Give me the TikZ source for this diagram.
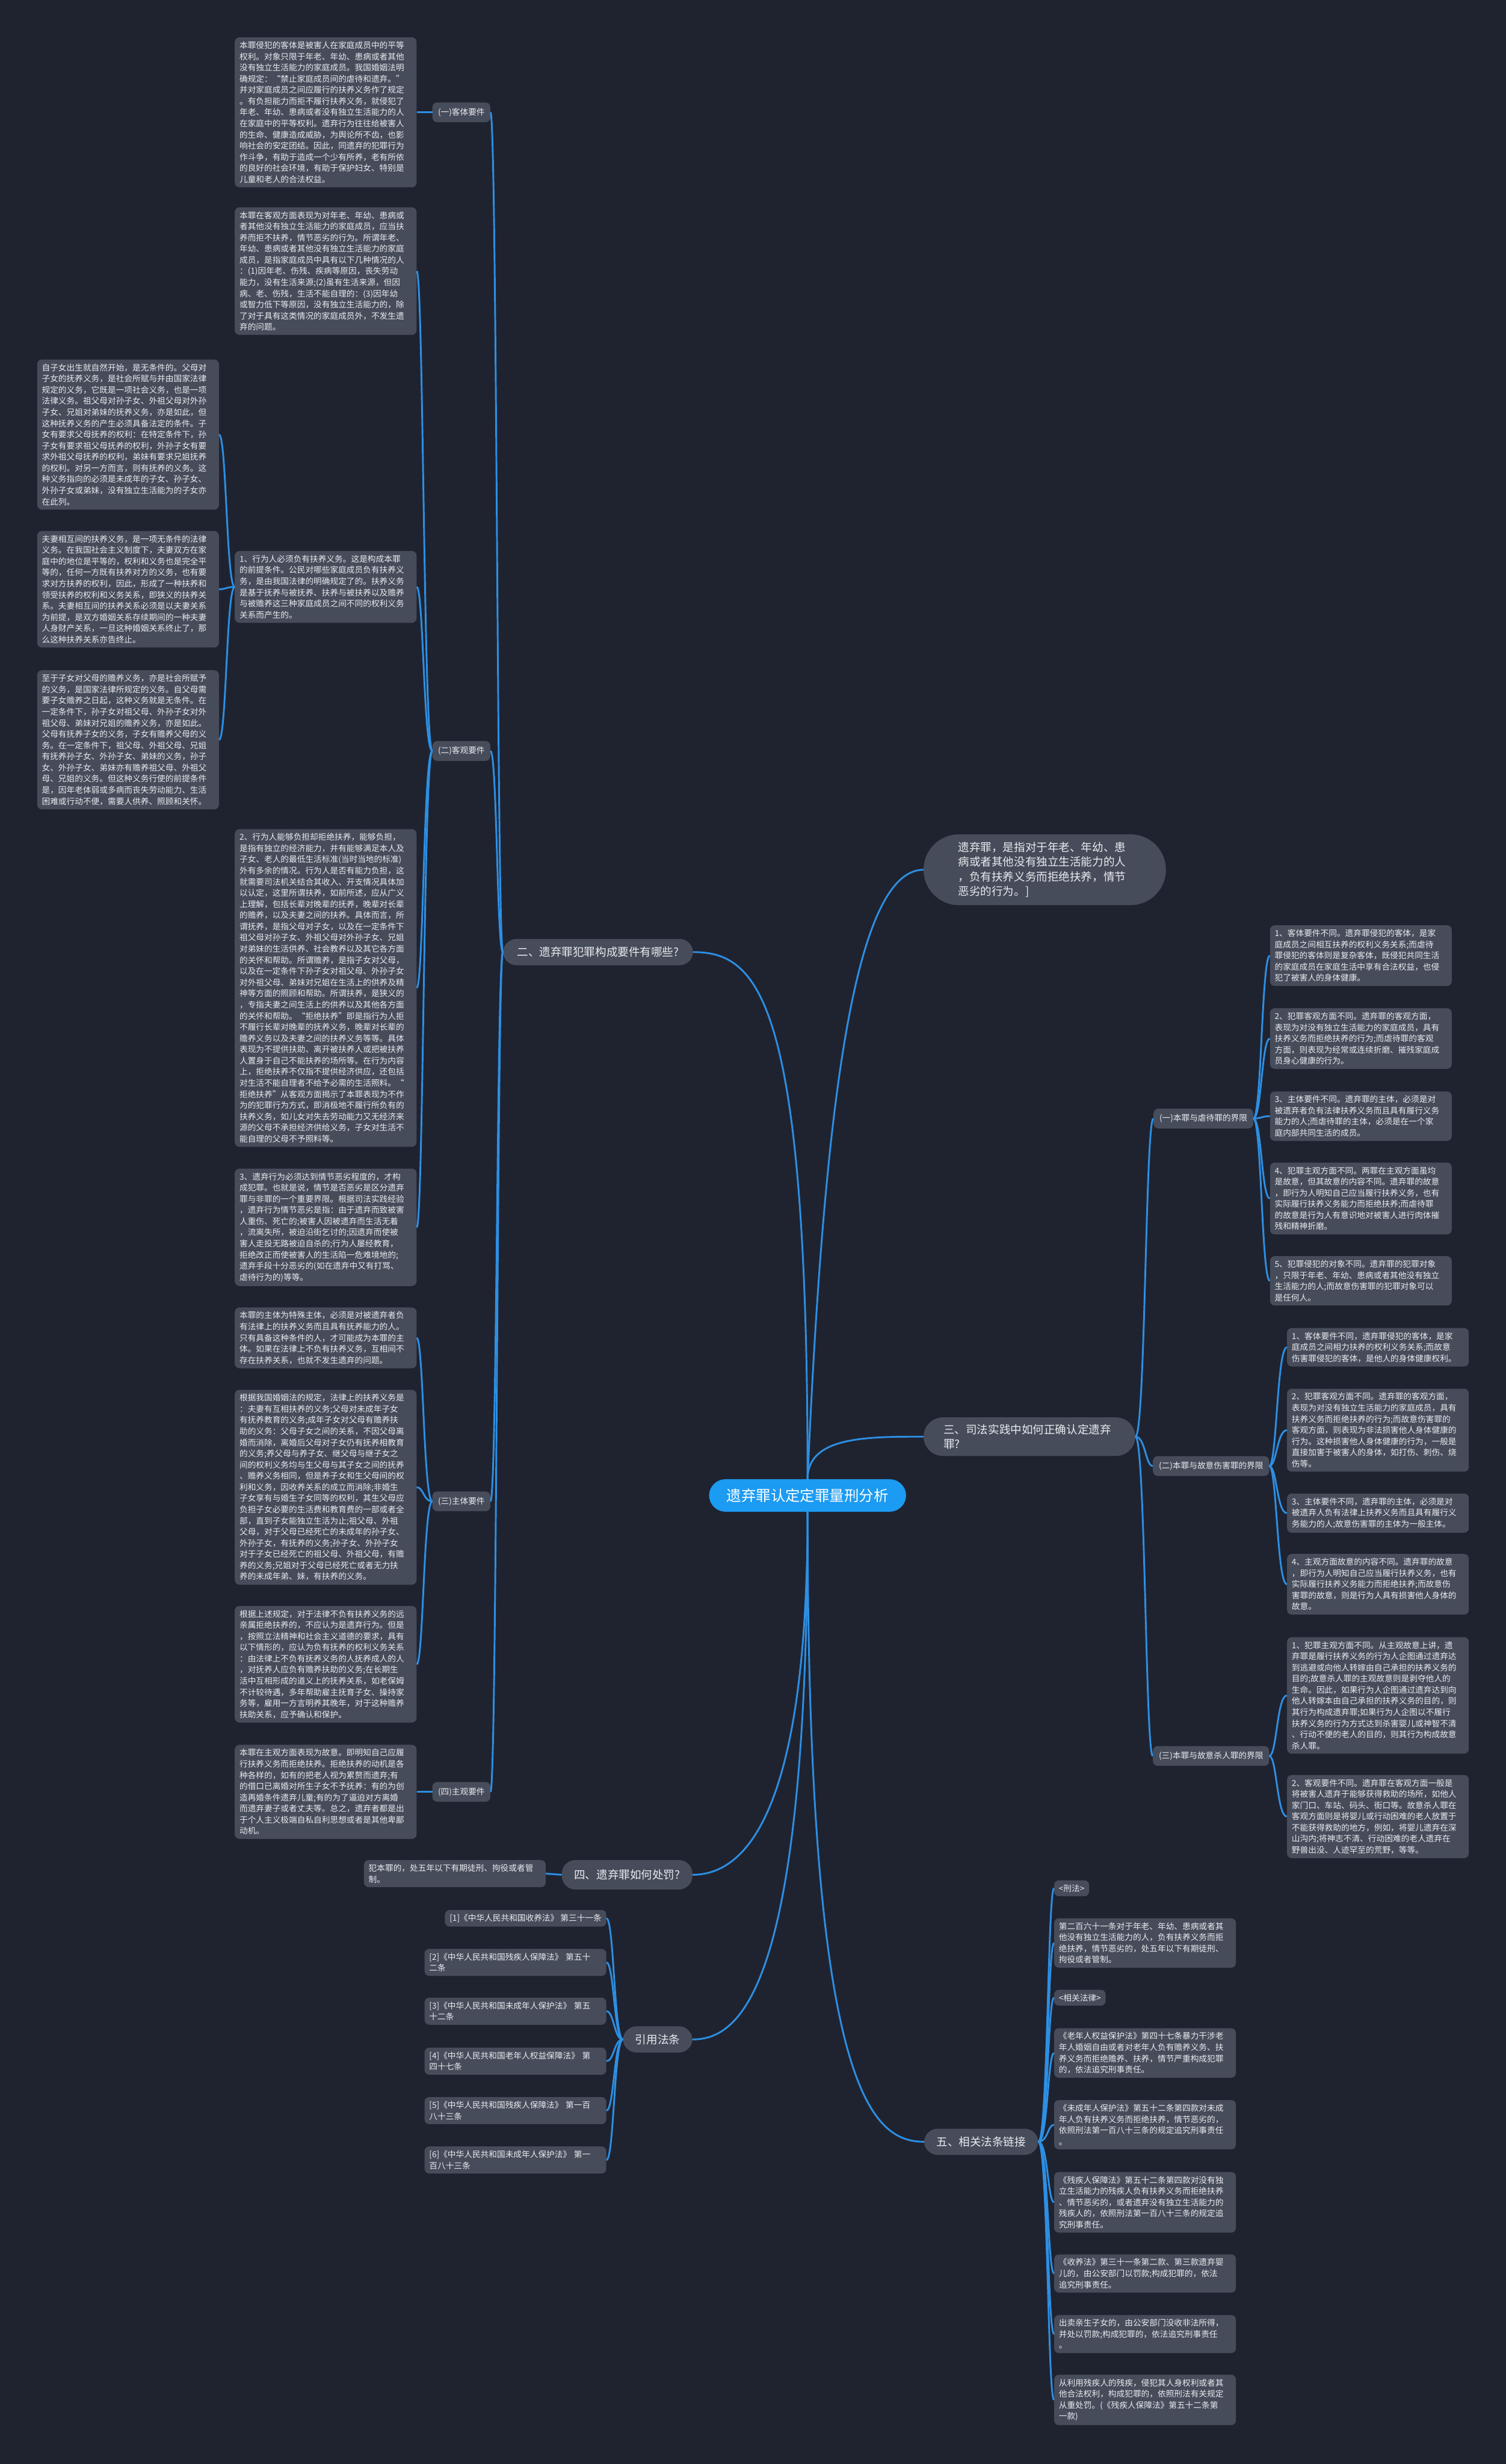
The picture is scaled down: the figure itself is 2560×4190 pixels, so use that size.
\documentclass[tikz,border=0pt]{standalone}
\usepackage{fontspec}
\setmainfont{Noto Sans CJK SC}
\usepackage{xcolor}
\usepackage{tikz}
\usetikzlibrary{positioning}
\definecolor{canvasbg}{HTML}{1F2330}
\definecolor{cardgray}{HTML}{474C5B}
\definecolor{linkblue}{HTML}{2D8FE3}
\definecolor{rootblue}{HTML}{1C9BF2}
\definecolor{inkwhite}{HTML}{E9EBEF}

\tikzset{
  cardbase/.style={fill=cardgray, rounded corners=8pt, text=inkwhite,
    font=\fontsize{14}{19}\selectfont, inner xsep=8pt, inner ysep=7pt, align=left},
  card/.style={cardbase, text width=293pt},
  tag/.style={fill=cardgray, rounded corners=8pt, text=inkwhite,
    font=\fontsize{14}{19}\selectfont, inner xsep=9.5pt, inner ysep=9.5pt},
  topic/.style={fill=cardgray, rounded corners=23pt, text=inkwhite,
    font=\fontsize{19}{25}\selectfont, inner xsep=21pt, inner ysep=13.5pt, align=left},
  rootnode/.style={fill=rootblue, rounded corners=28pt, text=white,
    font=\fontsize{25}{30}\selectfont, inner xsep=30pt, inner ysep=16pt},
  link/.style={draw=linkblue, line width=3pt},
}

\begin{document}
\begin{tikzpicture}[x=1pt, y=-1pt]
  \fill[canvasbg] (0,0) rectangle (2560,4190);

  \node[rootnode] (root) at (1373,2543) {遗弃罪认定定罪量刑分析};

  % 二、构成要件
  \node[topic, anchor=west, minimum width=323pt] (elem) at (855,1619) {二、遗弃罪犯罪构成要件有哪些?};
  \node[tag, anchor=west] (elemA) at (735,191) {(一)客体要件};
  \node[tag, anchor=west] (elemB) at (735,1277) {(二)客观要件};
  \node[tag, anchor=west] (elemC) at (735,2553) {(三)主体要件};
  \node[tag, anchor=west] (elemD) at (735,3047) {(四)主观要件};

  \node[card, anchor=west] (elemA1) at (399,191) {本罪侵犯的客体是被害人在家庭成员中的平等\\
    权利。对象只限于年老、年幼、患病或者其他\\
    没有独立生活能力的家庭成员。我国婚姻法明\\
    确规定：“禁止家庭成员间的虐待和遗弃。”\\
    并对家庭成员之间应履行的扶养义务作了规定\\
    。有负担能力而拒不履行扶养义务，就侵犯了\\
    年老、年幼、患病或者没有独立生活能力的人\\
    在家庭中的平等权利。遗弃行为往往给被害人\\
    的生命、健康造成威胁，为舆论所不齿，也影\\
    响社会的安定团结。因此，同遗弃的犯罪行为\\
    作斗争，有助于造成一个少有所养，老有所依\\
    的良好的社会环境，有助于保护妇女、特别是\\
    儿童和老人的合法权益。};

  \node[card, anchor=west] (elemB1) at (399,461) {本罪在客观方面表现为对年老、年幼、患病或\\
    者其他没有独立生活能力的家庭成员，应当扶\\
    养而拒不扶养，情节恶劣的行为。所谓年老、\\
    年幼、患病或者其他没有独立生活能力的家庭\\
    成员，是指家庭成员中具有以下几种情况的人\\
    ：(1)因年老、伤残、疾病等原因，丧失劳动\\
    能力，没有生活来源;(2)虽有生活来源，但因\\
    病、老、伤残，生活不能自理的：(3)因年幼\\
    或智力低下等原因，没有独立生活能力的，除\\
    了对于具有这类情况的家庭成员外，不发生遗\\
    弃的问题。};

  \node[card, anchor=west] (elemB2) at (399,998) {1、行为人必须负有扶养义务。这是构成本罪\\
    的前提条件。公民对哪些家庭成员负有扶养义\\
    务，是由我国法律的明确规定了的。扶养义务\\
    是基于抚养与被抚养、扶养与被扶养以及赡养\\
    与被赡养这三种家庭成员之间不同的权利义务\\
    关系而产生的。};

  \node[card, anchor=west] (elemB2a) at (63,739) {自子女出生就自然开始，是无条件的。父母对\\
    子女的抚养义务，是社会所赋与并由国家法律\\
    规定的义务，它既是一项社会义务，也是一项\\
    法律义务。祖父母对孙子女、外祖父母对外孙\\
    子女、兄姐对弟妹的抚养义务，亦是如此，但\\
    这种抚养义务的产生必须具备法定的条件。子\\
    女有要求父母抚养的权利：在特定条件下，孙\\
    子女有要求祖父母抚养的权利，外孙子女有要\\
    求外祖父母抚养的权利，弟妹有要求兄姐抚养\\
    的权利。对另一方而言，则有抚养的义务。这\\
    种义务指向的必须是未成年的子女、孙子女、\\
    外孙子女或弟妹，没有独立生活能为的子女亦\\
    在此列。};

  \node[card, anchor=west] (elemB2b) at (63,1002) {夫妻相互间的扶养义务，是一项无条件的法律\\
    义务。在我国社会主义制度下，夫妻双方在家\\
    庭中的地位是平等的，权利和义务也是完全平\\
    等的，任何一方既有扶养对方的义务，也有要\\
    求对方扶养的权利，因此，形成了一种扶养和\\
    领受扶养的权利和义务关系，即狭义的扶养关\\
    系。夫妻相互间的扶养关系必须是以夫妻关系\\
    为前提，是双方婚姻关系存续期间的一种夫妻\\
    人身财产关系，一旦这种婚姻关系终止了，那\\
    么这种扶养关系亦告终止。};

  \node[card, anchor=west] (elemB2c) at (63,1258) {至于子女对父母的赡养义务，亦是社会所赋予\\
    的义务，是国家法律所规定的义务。自父母需\\
    要子女赡养之日起，这种义务就是无条件。在\\
    一定条件下，孙子女对祖父母、外孙子女对外\\
    祖父母、弟妹对兄姐的赡养义务，亦是如此。\\
    父母有抚养子女的义务，子女有赡养父母的义\\
    务。在一定条件下，祖父母、外祖父母、兄姐\\
    有抚养孙子女、外孙子女、弟妹的义务，孙子\\
    女、外孙子女、弟妹亦有赡养祖父母、外祖父\\
    母、兄姐的义务。但这种义务行使的前提条件\\
    是，因年老体弱或多病而丧失劳动能力、生活\\
    困难或行动不便，需要人供养、照顾和关怀。};

  \node[card, anchor=west] (elemB3) at (399,1680) {2、行为人能够负担却拒绝扶养，能够负担，\\
    是指有独立的经济能力，并有能够满足本人及\\
    子女、老人的最低生活标准(当时当地的标准)\\
    外有多余的情况。行为人是否有能力负担，这\\
    就需要司法机关结合其收入、开支情况具体加\\
    以认定，这里所谓扶养，如前所述，应从广义\\
    上理解，包括长辈对晚辈的抚养，晚辈对长辈\\
    的赡养，以及夫妻之间的扶养。具体而言，所\\
    谓抚养，是指父母对子女，以及在一定条件下\\
    祖父母对孙子女、外祖父母对外孙子女、兄姐\\
    对弟妹的生活供养、社会教养以及其它各方面\\
    的关怀和帮助。所谓赡养，是指子女对父母，\\
    以及在一定条件下孙子女对祖父母、外孙子女\\
    对外祖父母、弟妹对兄姐在生活上的供养及精\\
    神等方面的照顾和帮助。所谓扶养，是狭义的\\
    ，专指夫妻之间生活上的供养以及其他各方面\\
    的关怀和帮助。“拒绝扶养”即是指行为人拒\\
    不履行长辈对晚辈的抚养义务，晚辈对长辈的\\
    赡养义务以及夫妻之间的扶养义务等等。具体\\
    表现为不提供扶助、离开被扶养人或把被扶养\\
    人置身于自己不能扶养的场所等。在行为内容\\
    上，拒绝扶养不仅指不提供经济供应，还包括\\
    对生活不能自理者不给予必需的生活照料。“\\
    拒绝扶养”从客观方面揭示了本罪表现为不作\\
    为的犯罪行为方式，即消极地不履行所负有的\\
    扶养义务，如儿女对失去劳动能力又无经济来\\
    源的父母不承担经济供给义务，子女对生活不\\
    能自理的父母不予照料等。};

  \node[card, anchor=west] (elemB4) at (399,2087) {3、遗弃行为必须达到情节恶劣程度的，才构\\
    成犯罪。也就是说，情节是否恶劣是区分遗弃\\
    罪与非罪的一个重要界限。根据司法实践经验\\
    ，遗弃行为情节恶劣是指：由于遗弃而致被害\\
    人重伤、死亡的;被害人因被遗弃而生活无着\\
    ，流离失所，被迫沿街乞讨的;因遗弃而使被\\
    害人走投无路被迫自杀的;行为人屡经教育，\\
    拒绝改正而使被害人的生活陷一危难境地的;\\
    遗弃手段十分恶劣的(如在遗弃中又有打骂、\\
    虐待行为的)等等。};

  \node[card, anchor=west] (elemC1) at (399,2275) {本罪的主体为特殊主体，必须是对被遗弃者负\\
    有法律上的扶养义务而且具有抚养能力的人。\\
    只有具备这种条件的人，才可能成为本罪的主\\
    体。如果在法律上不负有扶养义务，互相间不\\
    存在扶养关系，也就不发生遗弃的问题。};

  \node[card, anchor=west] (elemC2) at (399,2529) {根据我国婚姻法的规定，法律上的扶养义务是\\
    ：夫妻有互相扶养的义务;父母对未成年子女\\
    有抚养教育的义务;成年子女对父母有赡养扶\\
    助的义务：父母子女之间的关系，不因父母离\\
    婚而消除，离婚后父母对子女仍有抚养相教育\\
    的义务;养父母与养子女、继父母与继子女之\\
    间的权利义务均与生父母与其子女之间的抚养\\
    、赡养义务相同，但是养子女和生父母间的权\\
    利和义务，因收养关系的成立而消除;非婚生\\
    子女享有与婚生子女同等的权利，其生父母应\\
    负担子女必要的生活费和教育费的一部或者全\\
    部，直到子女能独立生活为止;祖父母、外祖\\
    父母，对于父母已经死亡的未成年的孙子女、\\
    外孙子女，有抚养的义务;孙子女、外孙子女\\
    对于子女已经死亡的祖父母、外祖父母，有赡\\
    养的义务;兄姐对于父母已经死亡或者无力扶\\
    养的未成年弟、妹，有扶养的义务。};

  \node[card, anchor=west] (elemC3) at (399,2830) {根据上述规定，对于法律不负有扶养义务的远\\
    亲属拒绝扶养的，不应认为是遗弃行为。但是\\
    ，按照立法精神和社会主义道德的要求，具有\\
    以下情形的，应认为负有抚养的权利义务关系\\
    ：由法律上不负有抚养义务的人抚养成人的人\\
    ，对抚养人应负有赡养扶助的义务;在长期生\\
    活中互相形成的道义上的抚养关系，如老保姆\\
    不计较待遇，多年帮助雇主抚育子女、操持家\\
    务等，雇用一方言明养其晚年，对于这种赡养\\
    扶助关系，应予确认和保护。};

  \node[card, anchor=west] (elemD1) at (399,3047) {本罪在主观方面表现为故意。即明知自己应履\\
    行扶养义务而拒绝扶养。拒绝扶养的动机是各\\
    种各样的，如有的把老人视为累赘而遗弃;有\\
    的借口已离婚对所生子女不予抚养：有的为创\\
    造再婚条件遗弃儿童;有的为了逼迫对方离婚\\
    而遗弃妻子或者丈夫等。总之，遗弃者都是出\\
    于个人主义极端自私自利思想或者是其他卑鄙\\
    动机。};

  % 定义
  \node[topic, anchor=west, text width=294pt, inner xsep=59pt, inner ysep=13pt,
        rounded corners=60pt] (rd) at (1570,1479) {遗弃罪，是指对于年老、年幼、患\\
    病或者其他没有独立生活能力的人\\
    ，负有扶养义务而拒绝扶养，情节\\
    恶劣的行为。]};

  % 三、司法认定
  \node[topic, anchor=west, text width=292pt, inner xsep=34pt, inner ysep=11.5pt,
        rounded corners=33pt] (sf) at (1570,2443) {三、司法实践中如何正确认定遗弃\\罪?};
  \node[tag, anchor=west, inner xsep=10pt] (nb1) at (1961,1902) {(一)本罪与虐待罪的界限};
  \node[tag, anchor=west, inner xsep=10pt] (nb2) at (1960,2493) {(二)本罪与故意伤害罪的界限};
  \node[tag, anchor=west, inner xsep=10pt] (nb3) at (1960,2986) {(三)本罪与故意杀人罪的界限};

  \node[card, anchor=west] (nb1a) at (2159,1625) {1、客体要件不同。遗弃罪侵犯的客体，是家\\
    庭成员之间相互扶养的权利义务关系;而虐待\\
    罪侵犯的客体则是复杂客体，既侵犯共同生活\\
    的家庭成员在家庭生活中享有合法权益，也侵\\
    犯了被害人的身体健康。};
  \node[card, anchor=west] (nb1b) at (2159,1766) {2、犯罪客观方面不同。遗弃罪的客观方面，\\
    表现为对没有独立生活能力的家庭成员，具有\\
    扶养义务而拒绝扶养的行为;而虐待罪的客观\\
    方面，则表现为经常或连续折磨、摧残家庭成\\
    员身心健康的行为。};
  \node[card, anchor=west] (nb1c) at (2159,1898) {3、主体要件不同。遗弃罪的主体，必须是对\\
    被遗弃者负有法律扶养义务而且具有履行义务\\
    能力的人;而虐待罪的主体，必须是在一个家\\
    庭内部共同生活的成员。};
  \node[card, anchor=west] (nb1d) at (2159,2038) {4、犯罪主观方面不同。两罪在主观方面虽均\\
    是故意，但其故意的内容不同。遗弃罪的故意\\
    ，即行为人明知自己应当履行扶养义务，也有\\
    实际履行扶养义务能力而拒绝扶养;而虐待罪\\
    的故意是行为人有意识地对被害人进行肉体摧\\
    残和精神折磨。};
  \node[card, anchor=west] (nb1e) at (2159,2178) {5、犯罪侵犯的对象不同。遗弃罪的犯罪对象\\
    ，只限于年老、年幼、患病或者其他没有独立\\
    生活能力的人;而故意伤害罪的犯罪对象可以\\
    是任何人。};

  \node[card, anchor=west] (nb2a) at (2188,2291) {1、客体要件不同，遗弃罪侵犯的客体，是家\\
    庭成员之间相力扶养的权利义务关系;而故意\\
    伤害罪侵犯的客体，是他人的身体健康权利。};
  \node[card, anchor=west] (nb2b) at (2188,2432) {2、犯罪客观方面不同。遗弃罪的客观方面，\\
    表现为对没有独立生活能力的家庭成员，具有\\
    扶养义务而拒绝扶养的行为;而故意伤害罪的\\
    客观方面，则表现为非法损害他人身体健康的\\
    行为。这种损害他人身体健康的行为，一般是\\
    直接加害于被害人的身体，如打伤、刺伤、烧\\
    伤等。};
  \node[card, anchor=west] (nb2c) at (2188,2573) {3、主体要件不同，遗弃罪的主体，必须是对\\
    被遗弃人负有法律上扶养义务而且具有履行义\\
    务能力的人;故意伤害罪的主体为一般主体。};
  \node[card, anchor=west] (nb2d) at (2188,2694) {4、主观方面故意的内容不同。遗弃罪的故意\\
    ，即行为人明知自己应当履行扶养义务，也有\\
    实际履行扶养义务能力而拒绝扶养;而故意伤\\
    害罪的故意，则是行为人具有损害他人身体的\\
    故意。};

  \node[card, anchor=west] (nb3a) at (2188,2883) {1、犯罪主观方面不同。从主观故意上讲，遗\\
    弃罪是履行扶养义务的行为人企图通过遗弃达\\
    到逃避或向他人转嫁由自己承担的扶养义务的\\
    目的;故意杀人罪的主观故意则是剥夺他人的\\
    生命。因此，如果行为人企图通过遗弃达到向\\
    他人转嫁本由自己承担的扶养义务的目的，则\\
    其行为构成遗弃罪;如果行为人企图以不履行\\
    扶养义务的行为方式达到杀害婴儿或神智不清\\
    、行动不便的老人的目的，则其行为构成故意\\
    杀人罪。};
  \node[card, anchor=west] (nb3b) at (2188,3089) {2、客观要件不同。遗弃罪在客观方面一般是\\
    将被害人遗弃于能够获得救助的场所，如他人\\
    家门口、车站、码头、街口等。故意杀人罪在\\
    客观方面则是将婴儿或行动困难的老人放置于\\
    不能获得救助的地方，例如，将婴儿遗弃在深\\
    山沟内;将神志不清、行动困难的老人遗弃在\\
    野兽出没、人迹罕至的荒野，等等。};

  % 四、处罚
  \node[topic, anchor=west, minimum height=50pt] (pen) at (955,3188) {四、遗弃罪如何处罚?};
  \node[card, anchor=east] (penA) at (928,3186) {犯本罪的，处五年以下有期徒刑、拘役或者管\\制。};

  % 引用法条
  \node[topic, anchor=west] (cite) at (1059,3468) {引用法条};
  \node[cardbase, anchor=east] (cite1) at (1031,3262) {[1]《中华人民共和国收养法》 第三十一条};
  \node[card, anchor=east] (cite2) at (1031,3337) {[2]《中华人民共和国残疾人保障法》 第五十\\二条};
  \node[card, anchor=east] (cite3) at (1031,3420) {[3]《中华人民共和国未成年人保护法》 第五\\十二条};
  \node[card, anchor=east] (cite4) at (1031,3505) {[4]《中华人民共和国老年人权益保障法》 第\\四十七条};
  \node[card, anchor=east] (cite5) at (1031,3589) {[5]《中华人民共和国残疾人保障法》 第一百\\八十三条};
  \node[card, anchor=east] (cite6) at (1031,3673) {[6]《中华人民共和国未成年人保护法》 第一\\百八十三条};

  % 五、相关法条
  \node[topic, anchor=west] (rel) at (1571,3642) {五、相关法条链接};
  \node[cardbase, anchor=west] (rel1) at (1792,3211) {<刑法>};
  \node[card, anchor=west] (rel2) at (1792,3304) {第二百六十一条对于年老、年幼、患病或者其\\
    他没有独立生活能力的人，负有扶养义务而拒\\
    绝扶养，情节恶劣的，处五年以下有期徒刑、\\
    拘役或者管制。};
  \node[cardbase, anchor=west] (rel3) at (1792,3397) {<相关法律>};
  \node[card, anchor=west] (rel4) at (1792,3491) {《老年人权益保护法》第四十七条暴力干涉老\\
    年人婚姻自由或者对老年人负有赡养义务、扶\\
    养义务而拒绝赡养、扶养，情节严重构成犯罪\\
    的，依法追究刑事责任。};
  \node[card, anchor=west] (rel5) at (1792,3613) {《未成年人保护法》第五十二条第四款对未成\\
    年人负有扶养义务而拒绝扶养，情节恶劣的，\\
    依照刑法第一百八十三条的规定追究刑事责任\\
    。};
  \node[card, anchor=west] (rel6) at (1792,3745) {《残疾人保障法》第五十二条第四款对没有独\\
    立生活能力的残疾人负有扶养义务而拒绝扶养\\
    、情节恶劣的，或者遗弃没有独立生活能力的\\
    残疾人的，依照刑法第一百八十三条的规定追\\
    究刑事责任。};
  \node[card, anchor=west] (rel7) at (1792,3866) {《收养法》第三十一条第二款、第三款遗弃婴\\
    儿的，由公安部门以罚款;构成犯罪的，依法\\
    追究刑事责任。};
  \node[card, anchor=west] (rel8) at (1792,3969) {出卖亲生子女的，由公安部门没收非法所得，\\
    并处以罚款;构成犯罪的，依法追究刑事责任\\
    。};
  \node[card, anchor=west] (rel9) at (1792,4081) {从利用残疾人的残疾，侵犯其人身权利或者其\\
    他合法权利，构成犯罪的，依照刑法有关规定\\
    从重处罚。(《残疾人保障法》第五十二条第\\
    一款)};

  % connectors from the root
  \draw[link] (root.north) .. controls (1373,1700) and (1290,1619) .. (elem.east);
  \draw[link] (root.north) .. controls (1400,1900) and (1450,1479) .. (rd.west);
  \draw[link] (root.north) .. controls (1373,2443) and (1472,2443) .. (sf.west);
  \draw[link] (root.south) .. controls (1373,3100) and (1260,3188) .. (pen.east);
  \draw[link] (root.south) .. controls (1373,3380) and (1260,3468) .. (cite.east);
  \draw[link] (root.south) .. controls (1373,3550) and (1480,3642) .. (rel.west);

  % brackets
  \coordinate (elemk) at ([xshift=-10pt]elem.west);
  \foreach \c in {elemA,elemB,elemC,elemD}
    \draw[link] (elem.west) .. controls (elemk) and (elemk |- \c.east) .. (\c.east);
  \coordinate (elemAk) at ([xshift=-14pt]elemA.west);
  \draw[link] (elemA.west) .. controls (elemAk) and (elemAk |- elemA1.east) .. (elemA1.east);
  \coordinate (elemBk) at ([xshift=-15pt]elemB.west);
  \foreach \c in {elemB1,elemB2,elemB3,elemB4}
    \draw[link] (elemB.west) .. controls (elemBk) and (elemBk |- \c.east) .. (\c.east);
  \coordinate (elemB2k) at ([xshift=-14pt]elemB2.west);
  \foreach \c in {elemB2a,elemB2b,elemB2c}
    \draw[link] (elemB2.west) .. controls (elemB2k) and (elemB2k |- \c.east) .. (\c.east);
  \coordinate (elemCk) at ([xshift=-15pt]elemC.west);
  \foreach \c in {elemC1,elemC2,elemC3}
    \draw[link] (elemC.west) .. controls (elemCk) and (elemCk |- \c.east) .. (\c.east);
  \draw[link] (elemD.west) -- (elemD1.east);

  \coordinate (sfk) at ([xshift=17pt]sf.east);
  \foreach \c in {nb1,nb2,nb3}
    \draw[link] (sf.east) .. controls (sfk) and (sfk |- \c.west) .. (\c.west);
  \coordinate (nb1k) at ([xshift=14pt]nb1.east);
  \foreach \c in {nb1a,nb1b,nb1c,nb1d,nb1e}
    \draw[link] (nb1.east) .. controls (nb1k) and (nb1k |- \c.west) .. (\c.west);
  \coordinate (nb2k) at ([xshift=13pt]nb2.east);
  \foreach \c in {nb2a,nb2b,nb2c,nb2d}
    \draw[link] (nb2.east) .. controls (nb2k) and (nb2k |- \c.west) .. (\c.west);
  \coordinate (nb3k) at ([xshift=13pt]nb3.east);
  \foreach \c in {nb3a,nb3b}
    \draw[link] (nb3.east) .. controls (nb3k) and (nb3k |- \c.west) .. (\c.west);

  \draw[link] (pen.west) -- (penA.east);
  \coordinate (citek) at ([xshift=-15pt]cite.west);
  \foreach \c in {cite1,cite2,cite3,cite4,cite5,cite6}
    \draw[link] (cite.west) .. controls (citek) and (citek |- \c.east) .. (\c.east);
  \coordinate (relk) at ([xshift=16pt]rel.east);
  \foreach \c in {rel1,rel2,rel3,rel4,rel5,rel6,rel7,rel8,rel9}
    \draw[link] (rel.east) .. controls (relk) and (relk |- \c.west) .. (\c.west);
\end{tikzpicture}
\end{document}
